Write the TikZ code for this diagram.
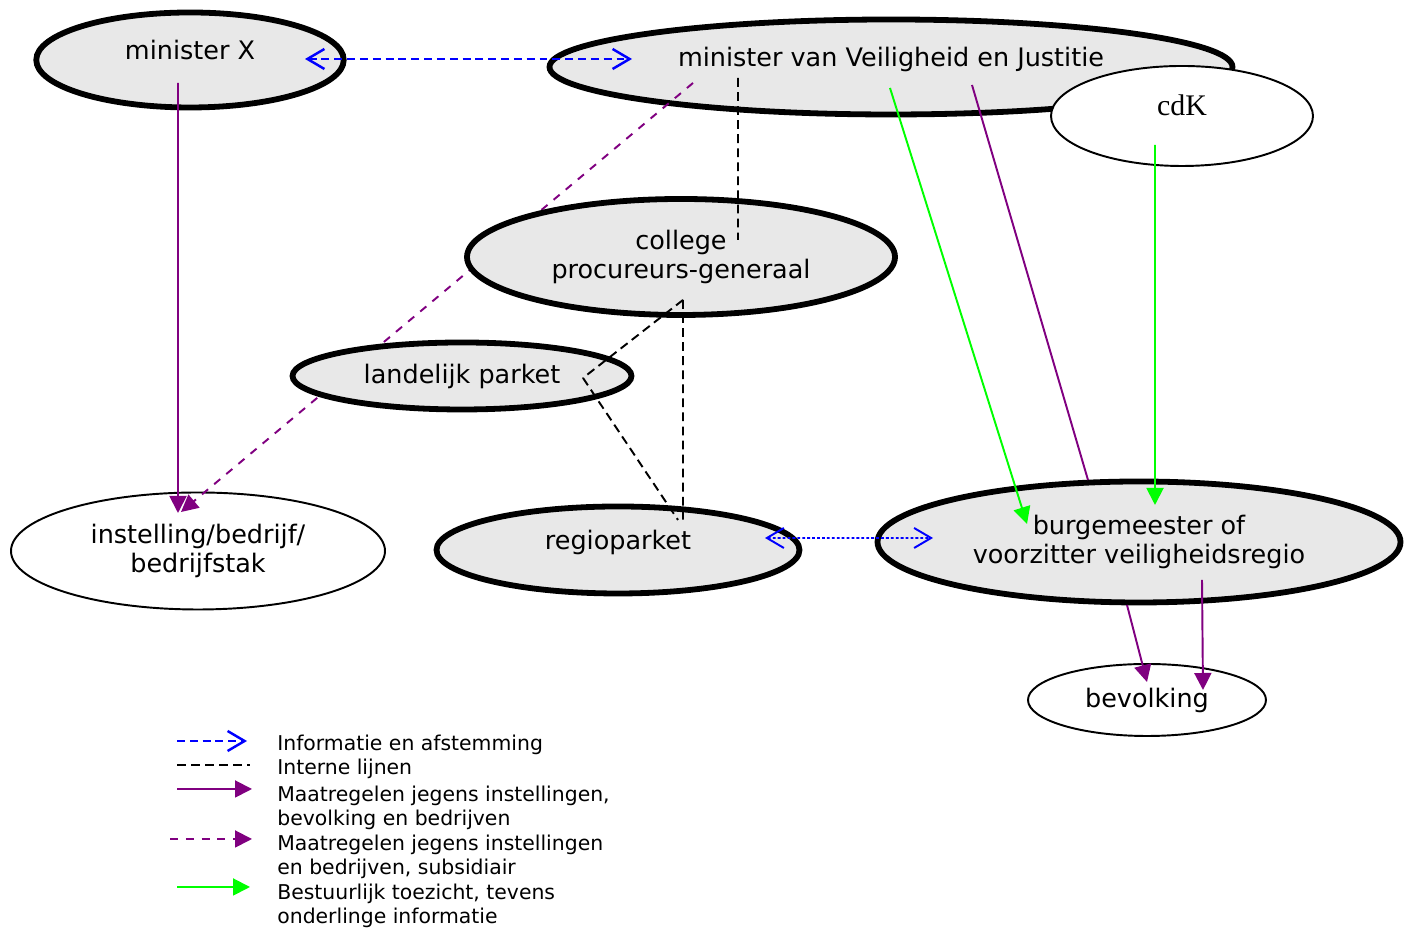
\documentclass[tikz,border=0pt]{standalone}
\usepackage{fontspec}
\setmainfont{DejaVu Sans}
\newfontfamily\cdkfont{Liberation Serif}
\usepackage{xcolor}
\usepackage{tikz}
\usetikzlibrary{shapes.geometric,arrows.meta}

\definecolor{orggray}{RGB}{232,232,232}
\definecolor{mpurple}{RGB}{128,0,128}
\definecolor{mgreen}{RGB}{0,255,0}

\tikzset{
  orgthick/.style={draw,ellipse,line width=3.3pt,fill=orggray,inner sep=0pt,align=center,
    font=\fontsize{14.5}{17}\selectfont},
  orgthin/.style={draw,ellipse,line width=1.1pt,fill=white,inner sep=0pt,align=center,
    font=\fontsize{14.5}{17}\selectfont},
  barb/.tip={Straight Barb[length=0.34cm,width=0.4cm]},
  head/.tip={Triangle[length=0.34cm,width=0.34cm]},
  infoline/.style={blue,line width=1.4pt,dash pattern=on 4.5pt off 2.8pt},
  infodots/.style={blue,line width=1.1pt,dash pattern=on 1.6pt off 1.2pt},
  internline/.style={black,line width=1.1pt,dash pattern=on 5pt off 3pt},
  measureline/.style={mpurple,line width=1.1pt,-head},
  measuredash/.style={mpurple,line width=1.1pt,dash pattern=on 4.5pt off 4.5pt,-head},
  toezicht/.style={mgreen,line width=1.1pt,-head},
  keytext/.style={anchor=base west,align=left,inner sep=0pt,
    font=\fontsize{11.6}{13.9}\selectfont}
}

\begin{document}
\begin{tikzpicture}
    \useasboundingbox (0,0) rectangle (28.22,18.6);

    % ministers
    \node[orgthick,minimum width=6.15cm,minimum height=1.9cm] (mx) at (3.8,17.4) {\smash{minister X}};
    \node[orgthick,minimum width=13.66cm,minimum height=1.9cm] (mvj) at (17.82,17.26) {\smash{minister van Veiligheid en Justitie}};
    \node[orgthin,minimum width=5.24cm,minimum height=2.0cm,font=\cdkfont\fontsize{17}{20}\selectfont] (cdk) at (23.64,16.28) {\smash{cdK}};
    \node[orgthin,minimum width=7.48cm,minimum height=2.34cm] (inst) at (3.96,7.58) {instelling/bedrijf/\\bedrijfstak};

    % subsidiary line runs behind the OM ellipses
    \draw[measuredash] ([shift={(-3.96,-0.32)}]mvj.center) to ([shift={(-0.34,0.78)}]inst.center);

    % openbaar ministerie
    \node[orgthick,minimum width=8.56cm,minimum height=2.32cm] (cpg) at (13.62,13.46) {college\\procureurs-generaal};
    \node[orgthick,minimum width=6.78cm,minimum height=1.34cm] (lp) at (9.24,11.08) {landelijk parket};
    \node[orgthick,minimum width=7.26cm,minimum height=1.74cm] (rp) at (12.36,7.6) {\smash{regioparket}};

    % lokaal
    \node[orgthick,minimum width=10.46cm,minimum height=2.42cm] (burg) at (22.78,7.76) {burgemeester of\\voorzitter veiligheidsregio};
    \node[orgthin,minimum width=4.76cm,minimum height=1.44cm] (bev) at (22.94,4.6) {bevolking};

    % informatie
    \draw[infoline,barb-barb] ([shift={(2.3,0.02)}]mx.center) to ([shift={(-5.18,0.16)}]mvj.center);
    \draw[infodots,barb-barb] ([shift={(2.94,0.24)}]rp.center) to ([shift={(-4.12,0.08)}]burg.center);

    % interne lijnen
    \draw[internline] ([shift={(-3.06,-0.22)}]mvj.center) to ([shift={(1.14,0.34)}]cpg.center);
    \draw[internline] ([shift={(0.04,-0.86)}]cpg.center) to ([shift={(2.42,-0.04)}]lp.center);
    \draw[internline] ([shift={(2.42,-0.04)}]lp.center) to ([shift={(1.2,0.6)}]rp.center);
    \draw[internline] ([shift={(0.04,-0.86)}]cpg.center) to ([shift={(1.3,0.6)}]rp.center);

    % maatregelen
    \draw[measureline] ([shift={(-0.24,-0.46)}]mx.center) to ([shift={(-0.4,0.76)}]inst.center);
    \draw[mpurple,line width=1.1pt] ([shift={(1.62,-0.36)}]mvj.center) to ([shift={(-1.02,1.24)}]burg.center);
    \draw[measureline] ([shift={(-0.24,-1.26)}]burg.center) to ([shift={(0,0.36)}]bev.center);
    \draw[measureline] ([shift={(1.26,-0.76)}]burg.center) to ([shift={(1.12,0.2)}]bev.center);

    % toezicht
    \draw[toezicht] ([shift={(-0.02,-0.42)}]mvj.center) to ([shift={(-2.24,0.36)}]burg.center);
    \draw[toezicht] ([shift={(-0.54,-0.58)}]cdk.center) to ([shift={(0.32,0.74)}]burg.center);

    % legenda
    \coordinate (k1a) at (3.54,3.78); \coordinate (k1b) at (4.94,3.78);
    \coordinate (k2a) at (3.54,3.30); \coordinate (k2b) at (5.00,3.30);
    \coordinate (k3a) at (3.54,2.82); \coordinate (k3b) at (5.04,2.82);
    \coordinate (k4a) at (3.40,1.82); \coordinate (k4b) at (5.04,1.82);
    \coordinate (k5a) at (3.54,0.86); \coordinate (k5b) at (5.00,0.86);
    \draw[infoline,-barb] (k1a) -- (k1b);
    \draw[internline] (k2a) -- (k2b);
    \draw[measureline] (k3a) -- (k3b);
    \draw[measuredash] (k4a) -- (k4b);
    \draw[toezicht] (k5a) -- (k5b);
    \node[keytext] (key1) at (5.54,3.58) {Informatie en afstemming};
    \node[keytext] (key2) at (5.54,3.10) {Interne lijnen};
    \node[keytext] (key3) at (5.54,2.08) {Maatregelen jegens instellingen,\\bevolking en bedrijven};
    \node[keytext] (key4) at (5.54,1.10) {Maatregelen jegens instellingen\\en bedrijven, subsidiair};
    \node[keytext] (key5) at (5.54,0.12) {Bestuurlijk toezicht, tevens\\onderlinge informatie};
\end{tikzpicture}
\end{document}
